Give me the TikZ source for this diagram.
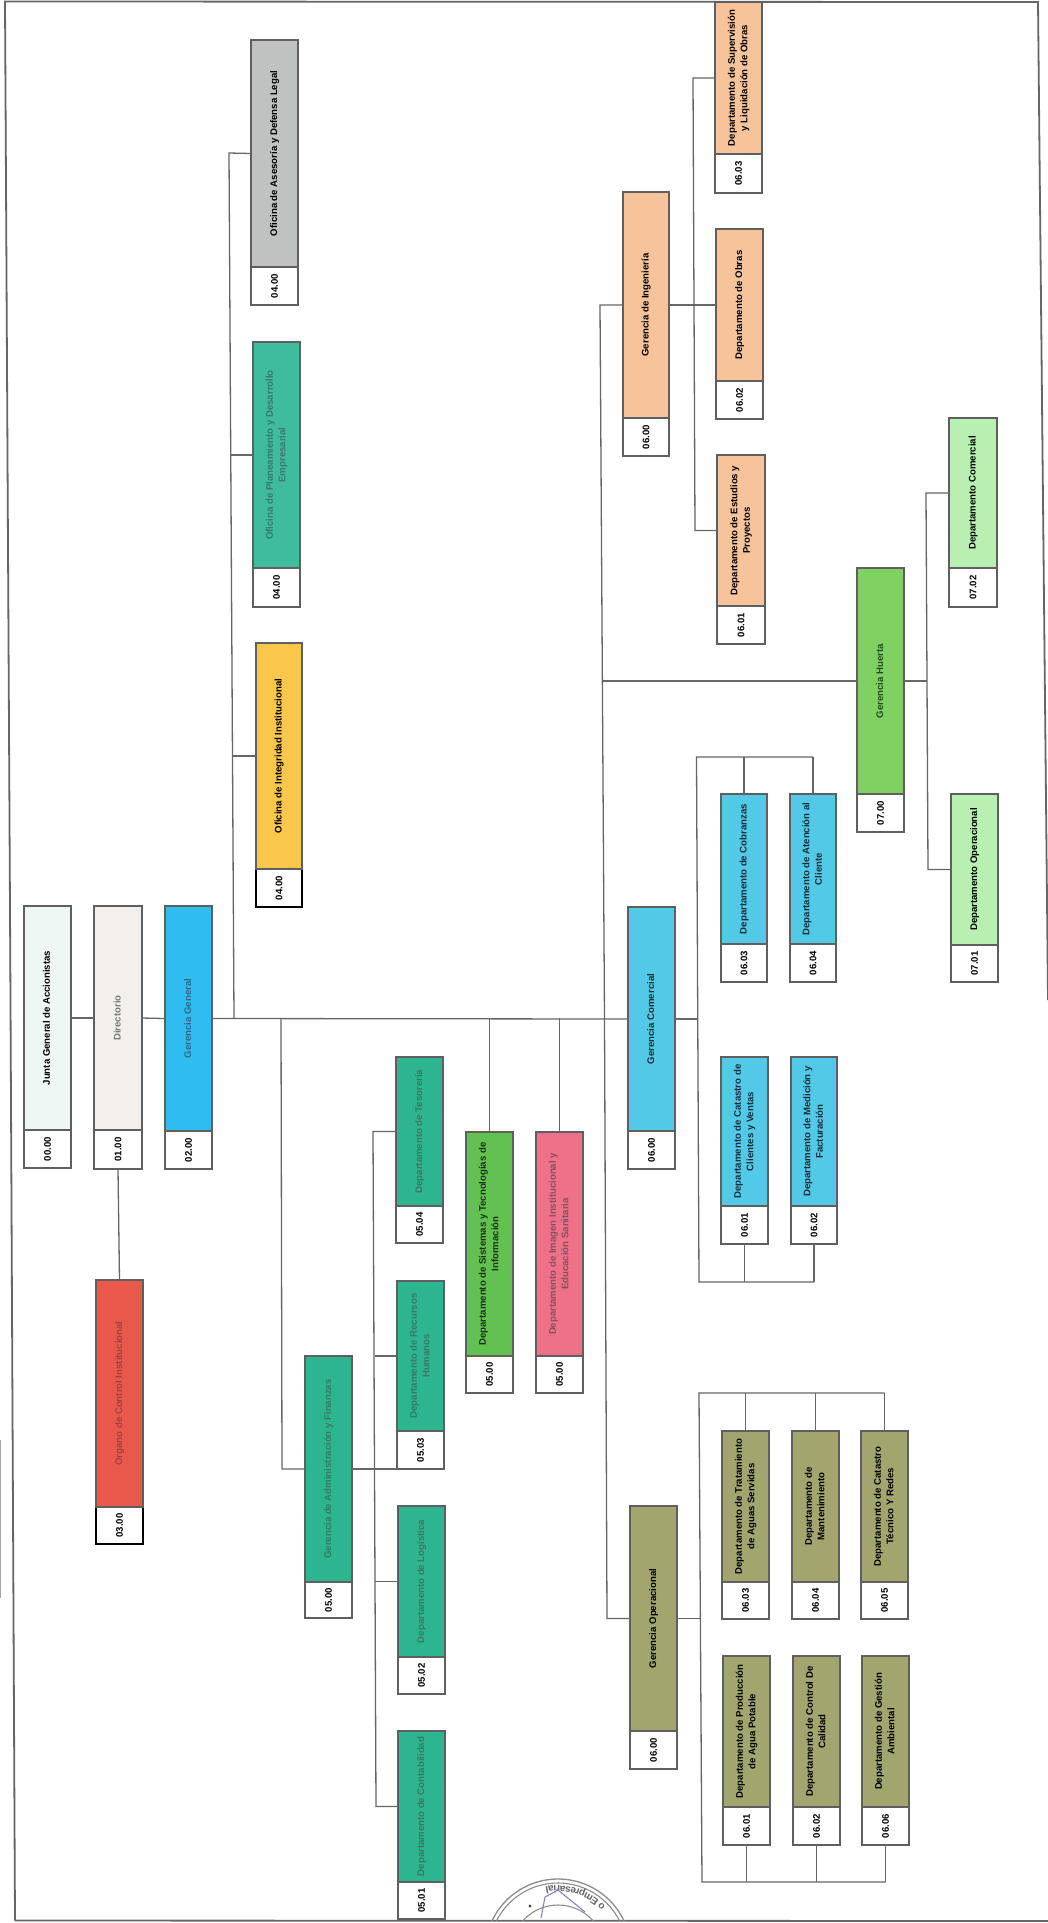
\documentclass[tikz,border=0pt]{standalone}
\usepackage{fontspec}
\usepackage{graphicx}
\setmainfont{Liberation Sans}
\usetikzlibrary{decorations.text}
\definecolor{cLine}{HTML}{666666}
\definecolor{cBox}{HTML}{5F5F5F}
\definecolor{sealc}{HTML}{8C8C8C}
\definecolor{sigc}{HTML}{7C78C8}
\tikzset{
  mainbox/.style={draw=cBox,line width=1.5pt,inner sep=0pt,outer sep=0pt,align=center,font=\bfseries\fontsize{9.6}{12.5}\selectfont},
  codebox/.style={draw=cBox,line width=1.5pt,fill=white,inner sep=0pt,outer sep=0pt,text=black,font=\bfseries\fontsize{9.6}{12}\selectfont},
  conn/.style={draw=cLine,line width=1.3pt},
  frameline/.style={draw=cLine,line width=1.8pt},
  fjunta/.style={fill={rgb,255:red,238;green,247;blue,243},text=black},
  fdir/.style={fill={rgb,255:red,243;green,239;blue,236},text={rgb,255:red,122;green,122;blue,120}},
  fgg/.style={fill={rgb,255:red,47;green,189;blue,239},text={rgb,255:red,45;green,105;blue,135}},
  fred/.style={fill={rgb,255:red,232;green,89;blue,76},text={rgb,255:red,165;green,65;blue,58}},
  fteal/.style={fill={rgb,255:red,45;green,181;blue,144},text={rgb,255:red,58;green,120;blue,104}},
  fplan/.style={fill={rgb,255:red,63;green,188;blue,158},text={rgb,255:red,60;green,120;blue,108}},
  fgray/.style={fill={rgb,255:red,191;green,194;blue,192},text=black},
  fyel/.style={fill={rgb,255:red,251;green,198;blue,76},text=black},
  fsis/.style={fill={rgb,255:red,99;green,194;blue,79},text={rgb,255:red,25;green,50;blue,20}},
  fima/.style={fill={rgb,255:red,238;green,112;blue,137},text={rgb,255:red,135;green,80;blue,92}},
  fcom/.style={fill={rgb,255:red,82;green,201;blue,230},text={rgb,255:red,25;green,45;blue,58}},
  foli/.style={fill={rgb,255:red,163;green,165;blue,111},text=black},
  fpea/.style={fill={rgb,255:red,247;green,195;blue,155},text=black},
  fhue/.style={fill={rgb,255:red,127;green,209;blue,97},text={rgb,255:red,40;green,75;blue,35}},
  flig/.style={fill={rgb,255:red,183;green,240;blue,176},text=black},
}
\def\parsegeo#1,#2,#3,#4,#5\relax{\def\gxa{#1}\def\gxb{#2}\def\gya{#3}\def\gyb{#4}\def\gyc{#5}}
% name, geometry (x0,x1,ytop,ydiv,ybottom), fill style, text (lines split by \\), code
\newcommand{\orgbox}[5]{%
  \parsegeo#2\relax
  \pgfmathsetmacro{\gw}{\gxb-\gxa}
  \pgfmathsetmacro{\gcx}{(\gxa+\gxb)/2}
  \pgfmathsetmacro{\gh}{\gyb-\gya}
  \pgfmathsetmacro{\gcy}{(\gya+\gyb)/2}
  \pgfmathsetmacro{\ghc}{\gyc-\gyb}
  \pgfmathsetmacro{\gcyc}{(\gyb+\gyc)/2}
  \node[codebox,minimum width=\gw pt,minimum height=\ghc pt] (#1-c) at (\gcx,\gcyc) {\rotatebox{90}{#5}};
  \node[mainbox,#3,minimum width=\gw pt,minimum height=\gh pt] (#1) at (\gcx,\gcy) {\rotatebox{90}{\begin{tabular}{@{}c@{}}#4\end{tabular}}};
}
\begin{document}
\begin{tikzpicture}[x=1pt,y=-1pt]
\useasboundingbox (0,0) rectangle (1048,1923);

% sheet frame
\draw[frameline] (15,1920.5) -- (10.5,1000) -- (5,1.5) -- (1038,2) -- (1048,1000);
\draw[frameline] (15,1920.5) -- (1048,1921);
\draw[draw=gray!70,line width=1pt] (0.6,1440) -- (0.6,1598);

% stamp, cut by the sheet edge
\begin{scope}
\clip (480,1870) rectangle (650,1920);
\draw[sealc,line width=1.3pt] (558,1952) circle[radius=73];
\draw[sealc,line width=1.1pt] (558,1952) circle[radius=69];
\draw[sealc,line width=1.1pt] (558,1952) circle[radius=47];
\path[decorate,decoration={text along path,text align=center,
  text={|\bfseries\fontsize{10}{10}\selectfont\color{sealc!70!black}|o Empresarial}}]
  (615,1919) .. controls (598,1889) and (561,1877.5) .. (530,1892);
\fill[black!70] (530,1906) circle[radius=1.6];
\draw[sigc,line width=1pt] (541,1918) -- (545,1897) -- (558,1890) -- (585,1912);
\end{scope}

% top line of command
\orgbox{junta}{24,71,906,1130,1168}{fjunta}{Junta General de Accionistas}{00.00}
\orgbox{dir}{94,142,906,1130,1169}{fdir}{Directorio}{01.00}
\orgbox{gg}{165,212,906,1131,1169}{fgg}{Gerencia General}{02.00}
\begin{scope}[codebox/.append style={draw=black}]
\orgbox{org}{96,143,1280,1507,1544}{fred}{Organo de Control Institucional}{03.00}
\orgbox{ofi}{256,302,643,869,907}{fyel}{Oficina de Integridad Institucional}{04.00}
\end{scope}
\orgbox{ofa}{251,298,40,267,305}{fgray}{Oficina de Asesoría y Defensa Legal}{04.00}
\orgbox{ofp}{253,300,342,568,607}{fplan}{Oficina de Planeamiento y Desarrollo\\Empresarial}{04.00}

% administration
\orgbox{adm}{305,352,1356,1582,1618}{fteal}{Gerencia de Administración y Finanzas}{05.00}
\orgbox{tes}{396,443,1057,1206,1243}{fteal}{Departamento de Tesorería}{05.04}
\orgbox{rrh}{397,444,1281,1431,1469}{fteal}{Departamento de Recursos\\Humanos}{05.03}
\orgbox{log}{398,445,1506,1657,1694}{fteal}{Departamento de Logística}{05.02}
\orgbox{con}{398,445,1731,1882,1919}{fteal}{Departamento de Contabilidad}{05.01}
\orgbox{sis}{466,513,1132,1356,1393}{fsis}{Departamento de Sistemas y Tecnologías de\\Información}{05.00}
\orgbox{ima}{536,583,1132,1356,1393}{fima}{Departamento de Imagen Institucional y\\Educación Sanitaria}{05.00}

% commercial
\orgbox{com}{628,675,907,1131,1169}{fcom}{Gerencia Comercial}{06.00}
\orgbox{cat}{721,768,1057,1206,1244}{fcom}{Departamento de Catastro de\\Clientes y Ventas}{06.01}
\orgbox{med}{791,837,1057,1206,1244}{fcom}{Departamento de Medición y\\Facturación}{06.02}
\orgbox{cob}{721,767,794,944,982}{fcom}{Departamento de Cobranzas}{06.03}
\orgbox{ate}{790,836,794,944,982}{fcom}{Departamento de Atención al\\Cliente}{06.04}

% operations
\orgbox{ope}{630,677,1506,1731,1769}{foli}{Gerencia Operacional}{06.00}
\orgbox{tra}{722,769,1431,1582,1619}{foli}{Departamento de Tratamiento\\de Aguas Servidas}{06.03}
\orgbox{man}{792,839,1431,1582,1619}{foli}{Departamento de\\Mantenimiento}{06.04}
\orgbox{cas}{861,908,1431,1582,1619}{foli}{Departamento de Catastro\\Técnico Y Redes}{06.05}
\orgbox{pro}{723,770,1656,1807,1845}{foli}{Departamento de Producción\\de Agua Potable}{06.01}
\orgbox{cal}{793,840,1656,1807,1845}{foli}{Departamento de Control De\\Calidad}{06.02}
\orgbox{amb}{862,909,1656,1807,1845}{foli}{Departamento de Gestión\\Ambiental}{06.06}

% engineering
\orgbox{ing}{623,669,192,418,456}{fpea}{Gerencia de Ingeniería}{06.00}
\orgbox{est}{717,765,455,606,644}{fpea}{Departamento de Estudios y\\Proyectos}{06.01}
\orgbox{obr}{716,763,229,381,419}{fpea}{Departamento de Obras}{06.02}
\orgbox{sup}{715,762,2,154,193}{fpea}{Departamento de Supervisión\\y Liquidación de Obras}{06.03}

% Huerta
\orgbox{hue}{857,904,568,794,832}{fhue}{Gerencia Huerta}{07.00}
\orgbox{dop}{951,998,794,945,982}{flig}{Departamento Operacional}{07.01}
\orgbox{dco}{949,997,418,568,607}{flig}{Departamento Comercial}{07.02}

% junctions
\coordinate (b4a) at (229,153);
\coordinate (b4b) at (234,1018);
\coordinate (j5a) at (281,1018);
\coordinate (j5b) at (282,1469);
\coordinate (b5a) at (373,1131.5);
\coordinate (b5m) at (375,1469);
\coordinate (b5b) at (376,1806.5);
\coordinate (tr) at (300,1018);
\coordinate (ta) at (600,305);
\coordinate (tb) at (604.5,1018);
\coordinate (tc) at (607,1618.5);
\coordinate (th) at (602,681);
\coordinate (cm) at (698,1019);
\coordinate (ca) at (696.5,757);
\coordinate (cb) at (699,1282);
\coordinate (om) at (700,1618.5);
\coordinate (oa) at (699,1393);
\coordinate (ob) at (702,1882);
\coordinate (ia) at (693,78);
\coordinate (im) at (694,305);
\coordinate (ib) at (695,530.5);
\coordinate (hm) at (927,681);
\coordinate (ha) at (926,493);
\coordinate (hb) at (928,869.5);

% connectors
\draw[conn] (junta.east) -- (dir.west);
\draw[conn] (dir.east) -- (gg.west);
\draw[conn] (dir-c.south) -- (org.north);
\draw[conn] (gg.east) -- (com.west);
\draw[conn] (ofa.west) -- (b4a) -- (b4b);
\draw[conn] (ofp.west) -- (ofp.west -| 231,0);
\draw[conn] (ofi.west) -- (ofi.west -| 232,0);
\draw[conn] (j5a) -- (j5b) -- (adm.west);
\draw[conn] (tes.west) -- (b5a) -- (b5b) -- (con.west);
\draw[conn] (rrh.west) -- (rrh.west -| b5m);
\draw[conn] (adm.east) -- (log.west |- adm.east);
\draw[conn] (log.west) -- (log.west -| b5m);
\draw[conn] (sis.north) -- (sis.north |- tr);
\draw[conn] (ima.north) -- (ima.north |- tr);
\draw[conn] (ing.west) -- (ta) -- (tb) -- (tc) -- (ope.west);
\draw[conn] (hue.west) -- (th);
% commercial branch
\draw[conn] (com.east) -- (cm);
\draw[conn] (ate.north |- ca) -- (ca) -- (cb) -- (med-c.south |- cb);
\draw[conn] (cob.north) -- (cob.north |- ca);
\draw[conn] (ate.north) -- (ate.north |- ca);
\draw[conn] (cat-c.south) -- (cat-c.south |- cb);
\draw[conn] (med-c.south) -- (med-c.south |- cb);
% operational branch
\draw[conn] (ope.east) -- (om);
\draw[conn] (cas.north |- oa) -- (oa) -- (ob) -- (amb-c.south |- ob);
\draw[conn] (tra.north) -- (tra.north |- oa);
\draw[conn] (man.north) -- (man.north |- oa);
\draw[conn] (cas.north) -- (cas.north |- oa);
\draw[conn] (pro-c.south) -- (pro-c.south |- ob);
\draw[conn] (cal-c.south) -- (cal-c.south |- ob);
\draw[conn] (amb-c.south) -- (amb-c.south |- ob);
% engineering branch
\draw[conn] (ing.east) -- (obr.west);
\draw[conn] (sup.west) -- (ia) -- (ib) -- (est.west);
% Huerta branch
\draw[conn] (hue.east) -- (hm);
\draw[conn] (dco.west) -- (ha) -- (hb) -- (dop.west);
\end{tikzpicture}
\end{document}
